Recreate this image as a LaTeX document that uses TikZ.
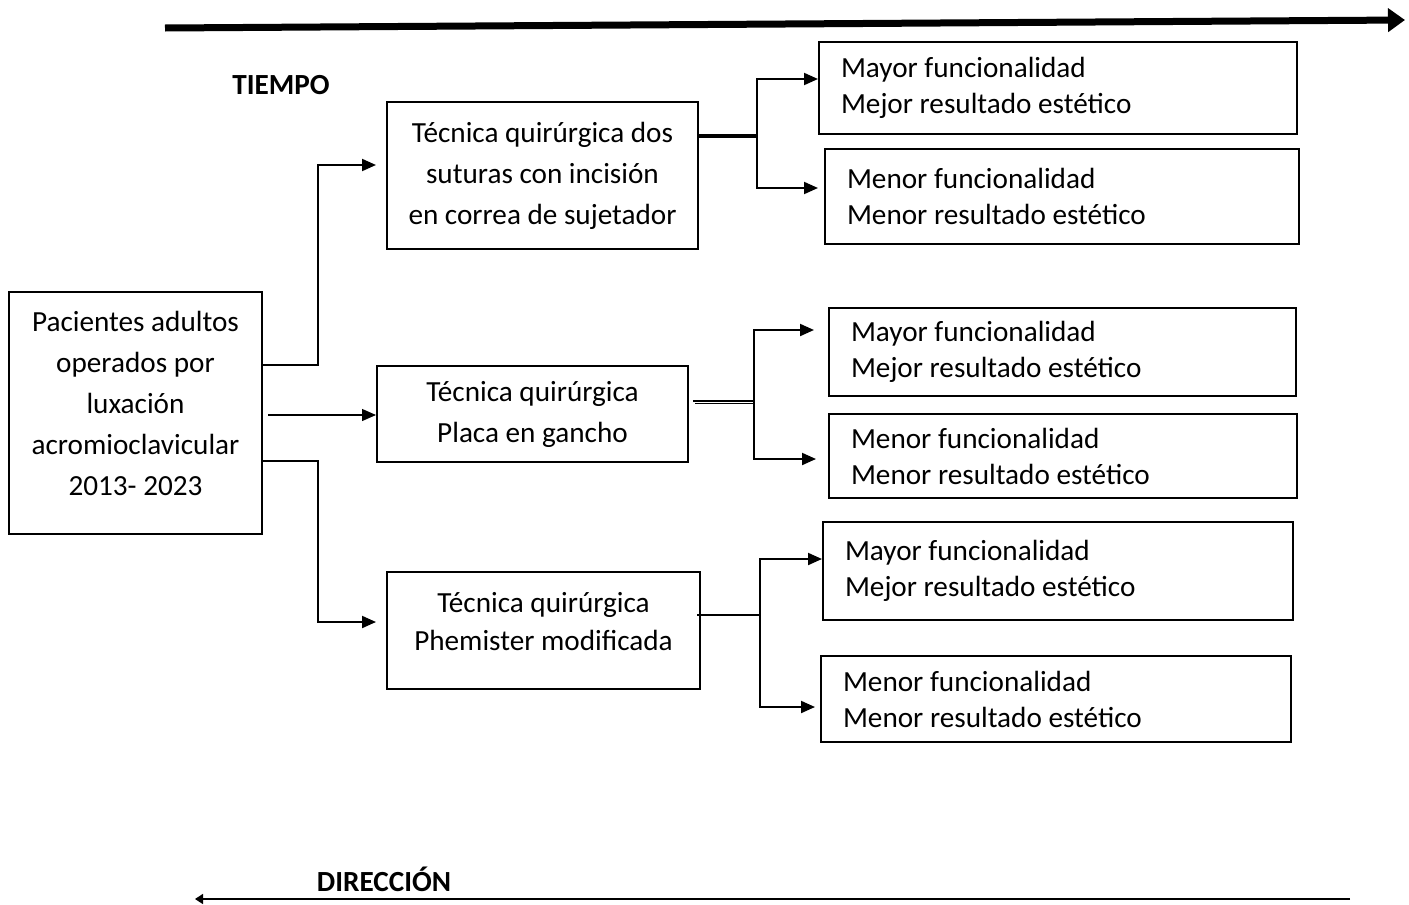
\documentclass[tikz,border=0pt]{standalone}
\usepackage{fontspec}
\setmainfont{Carlito}
\usetikzlibrary{arrows.meta}
\tikzset{
  caja/.style={draw, line width=1pt, inner sep=0pt, anchor=north west, align=center,
    font=\fontsize{14.6}{20.5}\selectfont},
  resultado/.style={draw, line width=1pt, inner xsep=11pt, inner ysep=0pt,
    anchor=north west, align=flush left, font=\fontsize{14.6}{18}\selectfont},
  flecha/.style={line width=1pt, -{Triangle[length=7pt,width=6pt]}},
}

\begin{document}
\begin{tikzpicture}[x=0.5pt, y=-0.5pt]
  \useasboundingbox (0,0) rectangle (1409,905);

  \coordinate (tiempoini) at (165,28);
  \coordinate (tiempofin) at (1405,20);
  \draw[line width=3.5pt, -{Triangle[length=8.5pt,width=11.5pt]}] (tiempoini) -- (tiempofin);
  \node[font=\fontsize{14.6}{18}\selectfont\bfseries] (tiempo) at (281,85) {TIEMPO};

  \node[caja, minimum width=126.5pt, minimum height=121pt] (pacientes) at (8,291)
    {Pacientes adultos\\operados por\\luxación\\acromioclavicular\\2013- 2023\\[-10.5pt]};

  \node[caja, minimum width=155.5pt, minimum height=73.5pt] (tecuno) at (386,101)
    {Técnica quirúrgica dos\\suturas con incisión\\en correa de sujetador};
  \node[caja, minimum width=155.5pt, minimum height=48pt] (tecdos) at (376,365)
    {Técnica quirúrgica\\Placa en gancho};
  \node[caja, minimum width=156.5pt, minimum height=58.5pt,
        font=\fontsize{14.6}{19}\selectfont] (tectres) at (386,571)
    {Técnica quirúrgica\\Phemister modificada\\[-9.5pt]};

  \node[resultado, text width=217pt, minimum height=46pt] (resuno) at (818,41)
    {Mayor funcionalidad\\Mejor resultado estético};
  \node[resultado, text width=215pt, minimum height=47.5pt] (resdos) at (824,148)
    {Menor funcionalidad\\Menor resultado estético};
  \node[resultado, text width=211.5pt, minimum height=44pt] (restres) at (828,307)
    {Mayor funcionalidad\\Mejor resultado estético};
  \node[resultado, text width=212pt, minimum height=42pt] (rescuatro) at (828,413)
    {Menor funcionalidad\\Menor resultado estético};
  \node[resultado, text width=213pt, minimum height=49pt] (rescinco) at (822,521)
    {Mayor funcionalidad\\Mejor resultado estético};
  \node[resultado, text width=213pt, minimum height=43pt] (resseis) at (820,655)
    {Menor funcionalidad\\Menor resultado estético};

  \draw[flecha, shorten >=5pt] (pacientes.east |- 0,365) -| (318,165) -- (tecuno.west |- 0,165);
  \draw[line width=0.6pt, -{Triangle[length=7pt,width=6pt]}, shorten <=2.5pt]
    (pacientes.east |- 0,415) -- (tecdos.west |- 0,415);
  \draw[flecha, shorten >=5pt] (pacientes.east |- 0,461) -| (318,622) -- (tectres.west |- 0,622);

  \coordinate (juno) at (757,136);
  \draw[line width=1.6pt] (tecuno.east |- juno) -- (juno);
  \draw[flecha] (juno) |- (resuno.west |- 0,79);
  \draw[flecha, shorten >=3pt] (juno) |- (resdos.west |- 0,188);

  \coordinate (jdos) at (754,402);
  \draw[line width=0.7pt] ([xshift=2pt]tecdos.east |- 0,401) -- (754,401);
  \draw[line width=0.8pt] ([xshift=3pt]tecdos.east |- 0,403.5) -- (754,403.5);
  \draw[flecha, shorten >=7pt] (jdos) |- (restres.west |- 0,330);
  \draw[flecha, shorten >=6pt] (jdos) |- (rescuatro.west |- 0,459);

  \coordinate (jtres) at (760,615);
  \draw[line width=0.6pt] ([xshift=-2pt]tectres.east |- jtres) -- (jtres);
  \draw[flecha] (jtres) |- (rescinco.west |- 0,559);
  \draw[flecha, shorten >=2.5pt] (jtres) |- (resseis.west |- 0,707);

  \node[font=\fontsize{14.6}{18}\selectfont\bfseries] (direccion) at (384,879) {DIRECCIÓN};
  \coordinate (dirini) at (1350,899);
  \coordinate (dirfin) at (195,899);
  \draw[line width=0.75pt, -{Triangle[length=4pt,width=5pt]}] (dirini) -- (dirfin);
\end{tikzpicture}
\end{document}
